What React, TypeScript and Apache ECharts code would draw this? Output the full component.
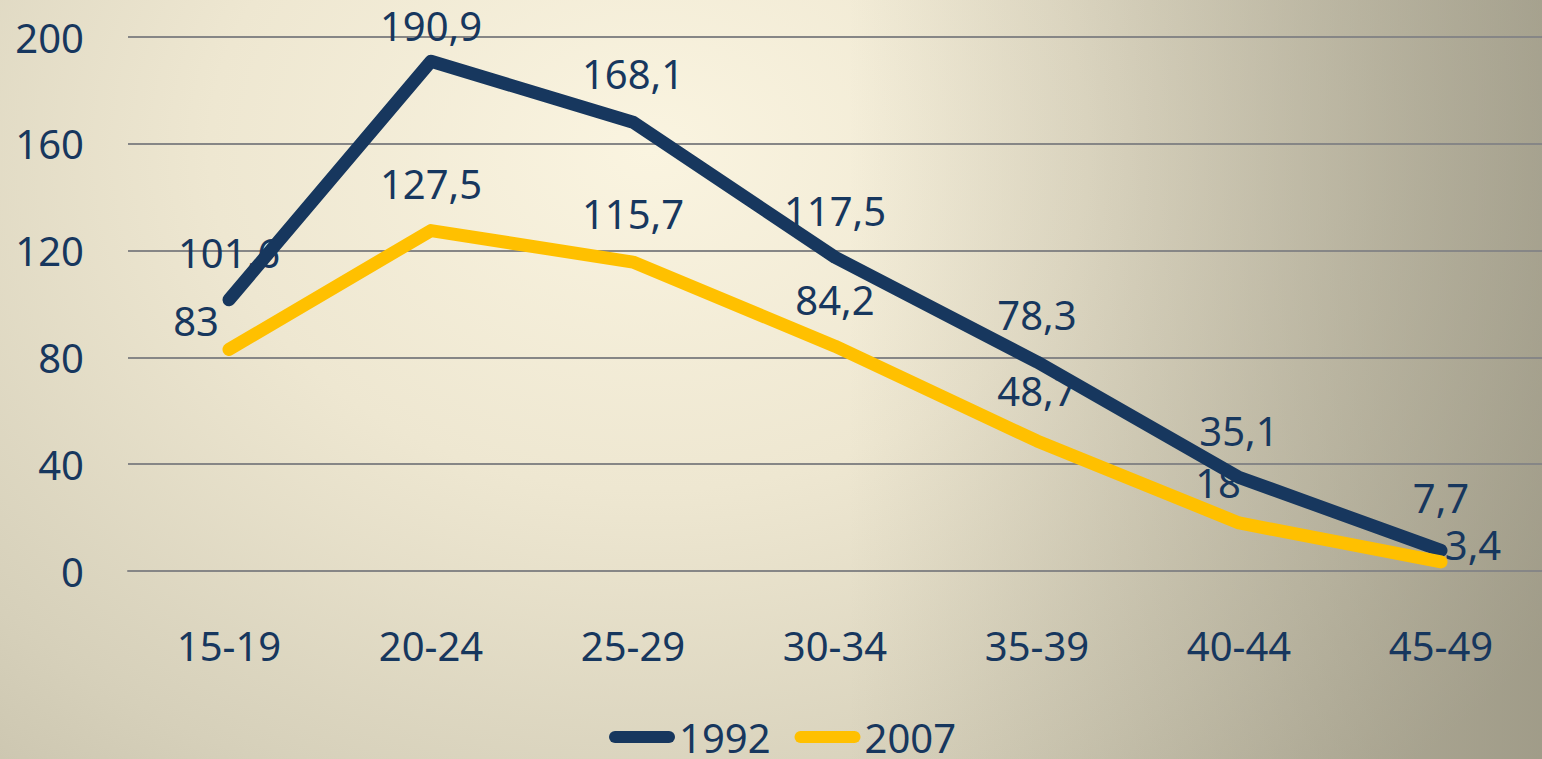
import React, { useEffect, useRef } from "react";
import * as echarts from "echarts";

const categories = ["15-19", "20-24", "25-29", "30-34", "35-39", "40-44", "45-49"];
const values1992 = [101.6, 190.9, 168.1, 117.5, 78.3, 35.1, 7.7];
const values2007 = [83, 127.5, 115.7, 84.2, 48.7, 18, 3.4];
const yTicks = { min: 0, max: 200, interval: 40 };

// label nudges (layout only)
const nudge1992 = [[0, 0], [0, 11], [0, -2], [0, 0], [0, 0], [0, 0], [0, -6]];
const nudge2007 = [[-33, 18], [0, 0], [0, -2], [0, 0], [0, -3], [-21, 7], [32, 30]];

const NAVY = "#17375E";
const GOLD = "#FFC000";
const FONT = "Noto Sans";

const fmt = (v: number) => String(v).replace(".", ",");

export default function App() {
  const ref = useRef<HTMLDivElement>(null);
  useEffect(() => {
    const chart = echarts.init(ref.current!, null, { renderer: "svg" });
    const labelSeries = (name: string, vals: number[], nudges: number[][]) => ({
      name,
      type: "scatter",
      z: 1,
      symbolSize: 0,
      silent: true,
      itemStyle: { opacity: 1 },
      data: vals.map((v, i) => ({
        value: v,
        label: { offset: nudges[i] },
      })),
      label: {
        show: true,
        position: "top",
        distance: 27,
        color: NAVY,
        fontFamily: FONT,
        fontSize: 40,
        opacity: 1,
        formatter: (p: any) => fmt(p.value),
      },
    });
    const lineSeries = (name: string, vals: number[], color: string) => ({
      name,
      type: "line",
      z: 3,
      data: vals,
      showSymbol: false,
      symbol: "none",
      lineStyle: { color, width: 13, cap: "round", join: "round" },
      itemStyle: { color },
    });
    const pill = "path://M6,0 L60,0 A6,6 0 0 1 60,12 L6,12 A6,6 0 0 1 6,0 Z";
    chart.setOption({
      animation: false,
      backgroundColor: "transparent",
      grid: { left: 128, right: -8, top: 37, bottom: 188, containLabel: false },
      legend: {
        bottom: -3,
        left: 604,
        itemWidth: 68,
        itemHeight: 12,
        itemGap: 24,
        data: [
          { name: "1992", icon: pill },
          { name: "2007", icon: pill },
        ],
        textStyle: { color: NAVY, fontFamily: FONT, fontSize: 40, padding: [0, 0, 0, -2] },
      },
      xAxis: {
        type: "category",
        data: categories,
        boundaryGap: true,
        axisLine: { show: true, lineStyle: { color: "#868686", width: 2 } },
        axisTick: { show: false },
        axisLabel: { color: NAVY, fontFamily: FONT, fontSize: 40, margin: 54 },
      },
      yAxis: {
        type: "value",
        min: yTicks.min,
        max: yTicks.max,
        interval: yTicks.interval,
        axisLine: { show: false },
        axisTick: { show: false },
        axisLabel: { color: NAVY, fontFamily: FONT, fontSize: 40, margin: 44 },
        splitLine: { lineStyle: { color: "#868686", width: 2 } },
      },
      series: [
        labelSeries("l1992", values1992, nudge1992),
        labelSeries("l2007", values2007, nudge2007),
        lineSeries("1992", values1992, NAVY),
        lineSeries("2007", values2007, GOLD),
      ],
    });
    return () => chart.dispose();
  }, []);
  return (
    <div
      style={{
        position: "absolute",
        left: 0,
        top: 0,
        width: 1542,
        height: 759,
        overflow: "hidden",
        background:
          "linear-gradient(to right, rgba(128,125,108,0) 55%, rgba(128,125,108,0.55) 100%), radial-gradient(ellipse 1100px 850px at 650px 150px, #faf4e0 0%, #eee7d1 40%, #d6d0ba 80%, #c8c2ac 100%)",
      }}
    >
      <div ref={ref} style={{ width: 1542, height: 759 }} />
    </div>
  );
}
